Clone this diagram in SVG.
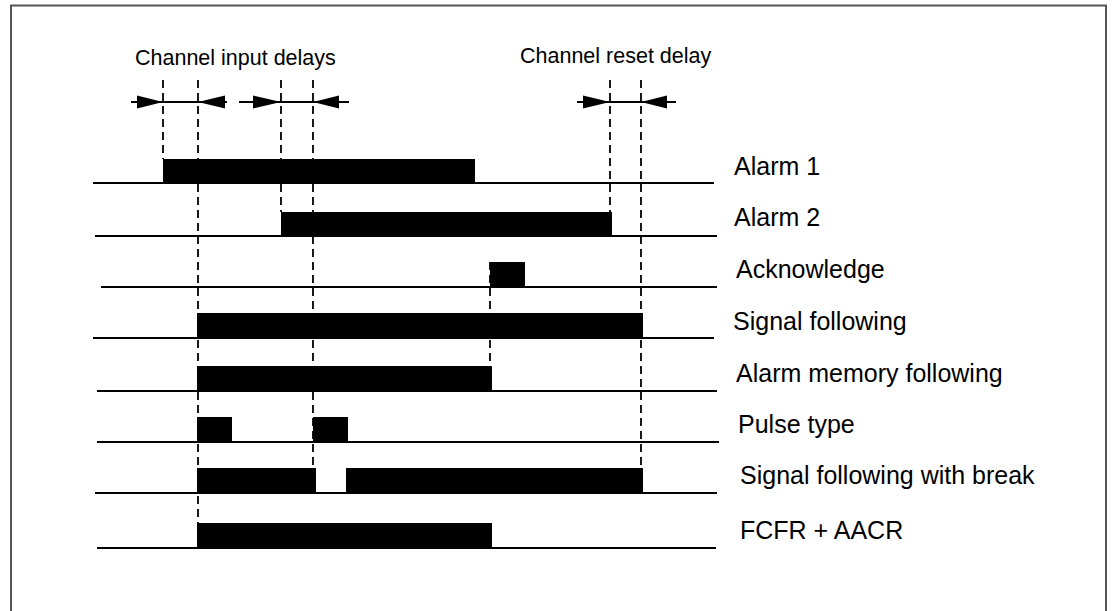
<svg xmlns="http://www.w3.org/2000/svg" width="1114" height="611" viewBox="0 0 1114 611">
<style>
.frame{fill:none;stroke:#555;stroke-width:2}
.base{stroke:#000;stroke-width:2;fill:none}
.bar{fill:#000}
.dash{stroke:#000;stroke-width:1.8;stroke-dasharray:8 5;fill:none}
.dim{stroke:#000;stroke-width:2;fill:none}
.head{fill:#000}
.lbl{font-family:"Liberation Sans",Arial,sans-serif;font-size:25px;fill:#000}
.top{font-family:"Liberation Sans",Arial,sans-serif;font-size:21.5px;fill:#000}
</style>
<rect width="1114" height="611" fill="#fff"/>
<path class="frame" d="M11,611 V5.5 H1106 V611"/>
<g id="connectors">
<line class="dash" x1="163" y1="80" x2="163" y2="159"/>
<line class="dash" x1="198" y1="80" x2="198" y2="548"/>
<line class="dash" x1="281" y1="80" x2="281" y2="212"/>
<line class="dash" x1="313" y1="80" x2="313" y2="468"/>
<line class="dash" x1="490" y1="262" x2="490" y2="366"/>
<line class="dash" x1="610" y1="80" x2="610" y2="212"/>
<line class="dash" x1="641" y1="80" x2="641" y2="468"/>
</g>
<g id="dims">
<line class="dim" x1="131" y1="102" x2="227" y2="102"/>
<polygon class="head" points="137,95.5 163,102 137,108.5"/>
<polygon class="head" points="225,95.5 198,102 225,108.5"/>
<line class="dim" x1="239" y1="102" x2="349" y2="102"/>
<polygon class="head" points="253,95.5 281,102 253,108.5"/>
<polygon class="head" points="339,95.5 313,102 339,108.5"/>
<line class="dim" x1="577" y1="102" x2="676" y2="102"/>
<polygon class="head" points="583,95.5 610,102 583,108.5"/>
<polygon class="head" points="667,95.5 641,102 667,108.5"/>
<text class="top" x="135" y="65">Channel input delays</text>
<text class="top" x="520" y="63">Channel reset delay</text>
</g>
<g id="alarm1">
<line class="base" x1="93" y1="183" x2="714" y2="183"/>
<rect class="bar" x="163" y="159" width="312" height="25"/>
<text class="lbl" x="734" y="175">Alarm 1</text>
</g>
<g id="alarm2">
<line class="base" x1="95" y1="236" x2="717" y2="236"/>
<rect class="bar" x="281" y="212" width="331" height="25"/>
<text class="lbl" x="734" y="226">Alarm 2</text>
</g>
<g id="acknowledge">
<line class="base" x1="101" y1="287" x2="717" y2="287"/>
<rect class="bar" x="490" y="262" width="35" height="25"/>
<text class="lbl" x="736" y="278">Acknowledge</text>
</g>
<g id="signal-following">
<line class="base" x1="93" y1="338" x2="714" y2="338"/>
<rect class="bar" x="197" y="313" width="446" height="25"/>
<text class="lbl" x="733" y="330">Signal following</text>
</g>
<g id="alarm-memory">
<line class="base" x1="97" y1="391" x2="717" y2="391"/>
<rect class="bar" x="197" y="366" width="295" height="25"/>
<text class="lbl" x="736" y="382">Alarm memory following</text>
</g>
<g id="pulse-type">
<line class="base" x1="97" y1="442" x2="719" y2="442"/>
<rect class="bar" x="197" y="417" width="35" height="25"/>
<rect class="bar" x="313" y="417" width="35" height="25"/>
<text class="lbl" x="738" y="433">Pulse type</text>
</g>
<g id="signal-break">
<line class="base" x1="95" y1="493" x2="717" y2="493"/>
<rect class="bar" x="197" y="468" width="119" height="25"/>
<rect class="bar" x="346" y="468" width="297" height="25"/>
<text class="lbl" x="740" y="484">Signal following with break</text>
</g>
<g id="fcfr-aacr">
<line class="base" x1="97" y1="548" x2="716" y2="548"/>
<rect class="bar" x="197" y="523" width="295" height="25"/>
<text class="lbl" x="740" y="539">FCFR + AACR</text>
</g>
</svg>
